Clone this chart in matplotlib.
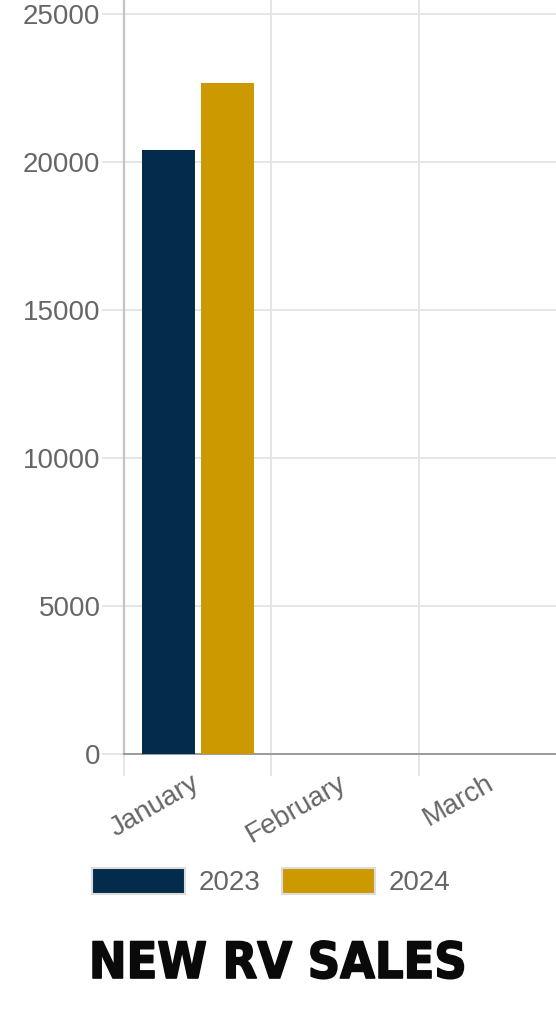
import matplotlib
matplotlib.use("Agg")
import matplotlib.pyplot as plt
import matplotlib.patches as mpatches
import matplotlib.patheffects as pe
import numpy as np

# data
months = ["January", "February", "March"]
sales_2023 = [20400, np.nan, np.nan]
sales_2024 = [22670, np.nan, np.nan]
series_names = ["2023", "2024"]
yticks = [0, 5000, 10000, 15000, 20000, 25000]

navy = "#032b4b"
gold = "#cc9900"
grid_c = "#e4e4e4"
text_c = "#666666"

plt.rcParams["font.family"] = ["Liberation Sans", "DejaVu Sans"]

W, H = 556, 1024
fig = plt.figure(figsize=(W / 100, H / 100), dpi=100)
fig.patch.set_facecolor("white")

# axes runs off the right / top edge like the cropped screenshot
ax = fig.add_axes([124 / W, 1 - 754 / H, (566 - 124) / W, 754 / H])

x = np.arange(len(months))
bw = 0.36
ax.bar(x - 0.2, sales_2023, bw, color=navy, zorder=3)
ax.bar(x + 0.2, sales_2024, bw, color=gold, zorder=3)

ax.set_xlim(-0.5, 2.5)
ax.set_ylim(0, 25000 * 754 / 740)
ax.set_yticks(yticks)
ax.set_yticklabels([str(v) for v in yticks])
ax.set_xticks(x)
ax.set_xticklabels([])
ax.set_xticks(np.arange(-0.5, 3.0, 1.0), minor=True)

# month labels, rotated, anchored at their top-right end
for i, m in enumerate(months):
    ax.annotate(m, xy=(x[i], 0), xycoords=("data", "axes fraction"),
                xytext=(-5, -11.5), textcoords="offset points",
                rotation=30, rotation_mode="anchor", ha="right", va="top",
                fontsize=20, color=text_c, annotation_clip=False)

ax.grid(axis="y", which="major", color=grid_c, lw=1.3, zorder=0)
ax.grid(axis="x", which="minor", color=grid_c, lw=1.3, zorder=0)
ax.tick_params(axis="y", length=16, width=1.3, color=grid_c, pad=1,
               labelsize=20, labelcolor=text_c)
ax.tick_params(axis="x", which="major", length=0)
ax.tick_params(axis="x", which="minor", length=16, width=1.3, color=grid_c)

for s in ["top", "right"]:
    ax.spines[s].set_visible(False)
ax.spines["left"].set_color("#c4c4c4")
ax.spines["left"].set_linewidth(1.6)
ax.spines["bottom"].set_color("#9a9a9a")
ax.spines["bottom"].set_linewidth(1.4)

handles = [mpatches.Patch(facecolor=navy, edgecolor="#dcdcdc", lw=1.5),
           mpatches.Patch(facecolor=gold, edgecolor="#dcdcdc", lw=1.5)]
fig.legend(handles, series_names, loc="center left",
           bbox_to_anchor=(92 / W, 1 - 882 / H), ncol=2, frameon=False,
           fontsize=20, labelcolor=text_c, handlelength=3.35, handleheight=1.05,
           handletextpad=0.5, columnspacing=0.75, borderpad=0, borderaxespad=0)

# heavy block title; a thin stroke fattens the glyphs a bit
fig.text(0.5, 1 - 964 / H, "NEW RV SALES", ha="center", va="center",
         fontsize=36, fontweight="heavy", fontstretch="condensed",
         family=["DejaVu Sans"], color="#0a0a0a",
         path_effects=[pe.withStroke(linewidth=1.2, foreground="#0a0a0a")])

fig.savefig("out.png", dpi=100, facecolor="white")
